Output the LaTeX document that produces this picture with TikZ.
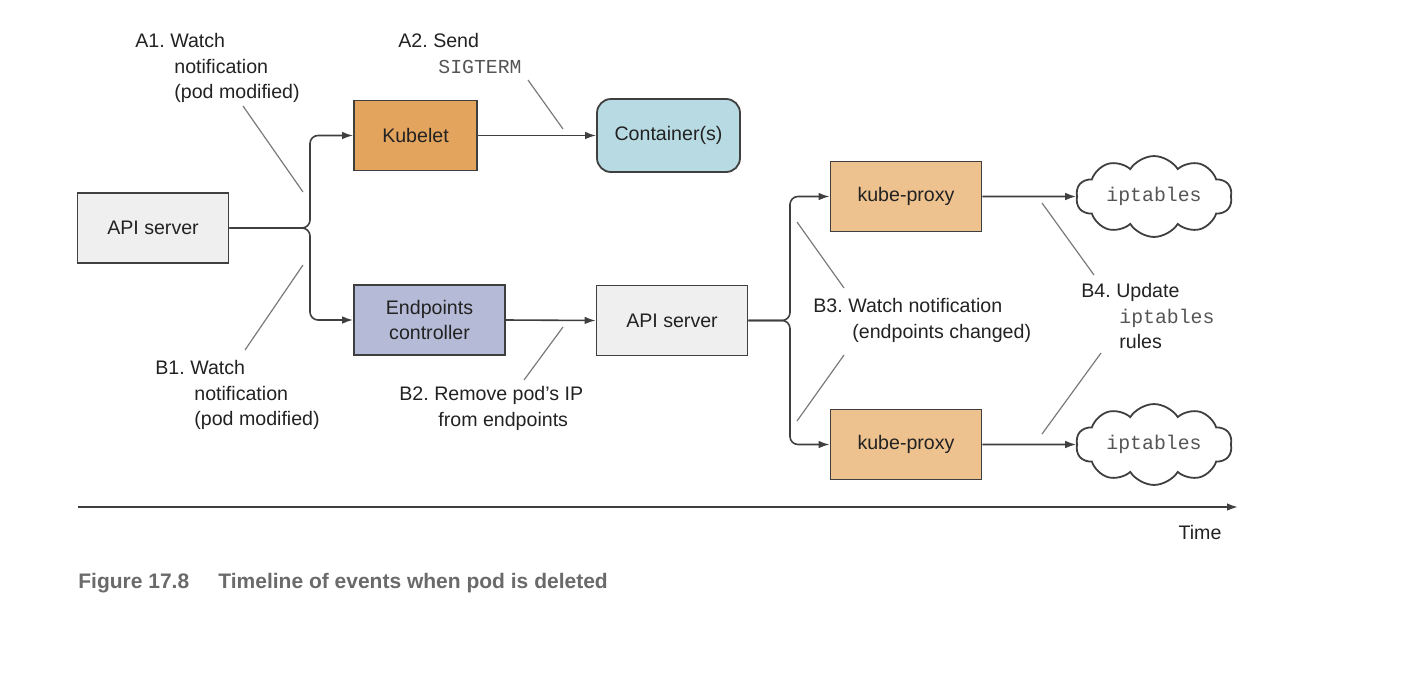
\documentclass[tikz,border=0pt]{standalone}
\usepackage{fontspec}
\setmainfont{Liberation Sans}
\setmonofont{Liberation Mono}
\usetikzlibrary{shapes.symbols,arrows.meta}
\frenchspacing
\definecolor{edgec}{HTML}{3F3F3F}
\definecolor{callc}{HTML}{7A7A7A}
\definecolor{grayfill}{HTML}{EFEFEF}
\definecolor{kubeletfill}{HTML}{E3A45E}
\definecolor{contfill}{HTML}{B8DBE3}
\definecolor{epfill}{HTML}{B5BBD6}
\definecolor{kpfill}{HTML}{EEC28E}
\definecolor{txtc}{HTML}{222222}
\definecolor{monoc}{HTML}{555555}
\definecolor{capc}{HTML}{6A6A6A}
\begin{document}
\begin{tikzpicture}[x=0.5pt,y=-0.5pt,
  font=\fontsize{9.8}{12.75}\selectfont, text=txtc,
  box/.style={draw=edgec, line width=0.9pt, inner sep=0pt, minimum width=75.5pt, minimum height=35pt, align=center},
  conn/.style={draw=edgec, line width=0.8pt, -{Latex[length=5.5pt,width=3.8pt]}},
  junc/.style={conn, rounded corners=4pt},
  call/.style={draw=callc, line width=0.6pt},
  lbl/.style={align=left, anchor=north west, inner sep=0pt},
  mono/.style={font=\fontsize{9.9}{12.75}\selectfont\ttfamily, text=monoc},
  cloudbox/.style={cloud, cloud puffs=10, cloud puff arc=115, aspect=2.2, draw=edgec, line width=0.9pt, fill=white, minimum width=78pt, minimum height=37pt, inner sep=0pt}
]
\useasboundingbox (0,0) rectangle (1407,686);

% nodes
\node[box, fill=grayfill] (api1) at (153,228) {API server};
\node[box, fill=kubeletfill, minimum width=61.5pt] (kubelet) at (415.5,135.5) {Kubelet};
\node[box, fill=contfill, rounded corners=7pt, minimum width=71.5pt, minimum height=36.5pt] (cont) at (668.5,135.5) {Container(s)};
\node[box, fill=epfill] (ep) at (429.5,320) {Endpoints\\[-0.5pt]controller};
\node[box, fill=grayfill] (api2) at (672,320.5) {API server};
\node[box, fill=kpfill] (kp1) at (906,196.5) {kube-proxy};
\node[box, fill=kpfill] (kp2) at (906,444.5) {kube-proxy};
\node[cloudbox, mono] (ipt1) at (1154,196.5) {iptables};
\node[cloudbox, mono] (ipt2) at (1154,444.5) {iptables};

% junction coordinates
\coordinate (j1) at (310,228);
\coordinate (j2) at (790,320.5);

% connectors
\draw[junc] (api1.east) -- (j1) -- (j1 |- kubelet.west) -- (kubelet.west);
\draw[junc] (api1.east) -- (j1) -- (j1 |- ep.west) -- (ep.west);
\draw[conn] (kubelet.east) -- (cont.west);
\draw[conn] (ep.east) -- (api2.west);
\draw[junc] (api2.east) -- (j2) -- (j2 |- kp1.west) -- (kp1.west);
\draw[junc] (api2.east) -- (j2) -- (j2 |- kp2.west) -- (kp2.west);
\draw[conn] (kp1.east) -- (ipt1.west);
\draw[conn] (kp2.east) -- (ipt2.west);

% timeline
\coordinate (t0) at (78,507);
\coordinate (t1) at (1238,507);
\draw[conn, line width=0.9pt] (t0) -- (t1);
\node[anchor=center] (time) at (1200,532) {Time};

% callout lines
\coordinate (a1s) at (243,106); \coordinate (a1e) at (303,192);
\coordinate (b1s) at (303,265); \coordinate (b1e) at (245,350);
\coordinate (a2s) at (528,80);  \coordinate (a2e) at (563,129);
\coordinate (b2s) at (563,327); \coordinate (b2e) at (524,380);
\coordinate (b3s) at (797,222); \coordinate (b3e) at (844,288);
\coordinate (b3t) at (844,355); \coordinate (b3f) at (797,421);
\coordinate (b4s) at (1042,203); \coordinate (b4e) at (1094,275);
\coordinate (b4t) at (1101,353); \coordinate (b4f) at (1042,434);
\draw[call] (a1s) -- (a1e);
\draw[call] (b1s) -- (b1e);
\draw[call] (a2s) -- (a2e);
\draw[call] (b2s) -- (b2e);
\draw[call] (b3s) -- (b3e);
\draw[call] (b3t) -- (b3f);
\draw[call] (b4s) -- (b4e);
\draw[call] (b4t) -- (b4f);

% labels
\node[lbl] (la1) at (135,33) {A1. Watch\\\hspace*{19.5pt}notification\\\hspace*{19.5pt}(pod modified)};
\node[lbl] (lb1) at (155,360) {B1. Watch\\\hspace*{19.5pt}notification\\\hspace*{19.5pt}(pod modified)};
\node[lbl] (la2) at (398,33) {A2. Send\\\hspace*{20pt}{\fontsize{9.9}{12.75}\selectfont\ttfamily\color{monoc}SIGTERM}};
\node[lbl] (lb2) at (399,386) {B2. Remove pod’s IP\\\hspace*{19.5pt}from endpoints};
\node[lbl] (lb3) at (813,298) {B3. Watch notification\\\hspace*{19.5pt}(endpoints changed)};
\node[lbl] (lb4) at (1081,283) {B4. Update\\\hspace*{19pt}{\fontsize{9.9}{12.75}\selectfont\ttfamily\color{monoc}iptables}\\\hspace*{19pt}rules};

% caption
\node[anchor=west, inner sep=0pt, text=capc, font=\fontsize{10.5}{12}\selectfont\bfseries] (cap) at (78,583) {\makebox[70pt][l]{Figure 17.8}Timeline of events when pod is deleted};
\end{tikzpicture}
\end{document}
